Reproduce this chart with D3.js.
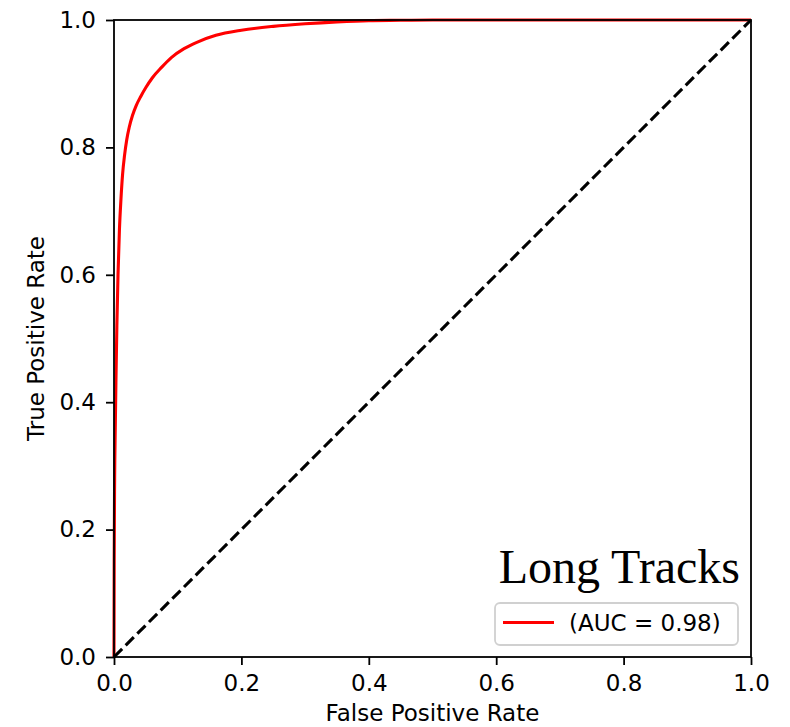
<!DOCTYPE html>
<html>
<head>
<meta charset="utf-8">
<script src="https://cdn.jsdelivr.net/npm/d3@7"></script>
<style>
  html, body { margin: 0; padding: 0; background: #fff; }
  svg { display: block; }
</style>
</head>
<body>
<svg id="chart" width="790" height="727"></svg>
<script>
// ROC curve data
const fpr = [0, 0.0003, 0.001, 0.002, 0.003, 0.0045, 0.0063, 0.0085, 0.011, 0.0135, 0.0165, 0.02, 0.024, 0.029, 0.035, 0.042, 0.05, 0.06, 0.075, 0.09, 0.11, 0.13, 0.16, 0.2, 0.25, 0.3, 0.35, 0.4, 0.45, 0.5, 0.6, 0.8, 1.0];
const tpr = [0, 0.15, 0.28, 0.36, 0.43, 0.52, 0.60, 0.67, 0.72, 0.758, 0.787, 0.812, 0.832, 0.85, 0.866, 0.88, 0.894, 0.909, 0.926, 0.941, 0.955, 0.965, 0.976, 0.984, 0.990, 0.994, 0.997, 0.999, 0.9995, 1, 1, 1, 1];
const chanceX = [0, 1];
const chanceY = [0, 1];
const xTicks = [0, 0.2, 0.4, 0.6, 0.8, 1.0];
const yTicks = [0, 0.2, 0.4, 0.6, 0.8, 1.0];
const xLabel = "False Positive Rate";
const yLabel = "True Positive Rate";
const titleText = "Long Tracks";
const legendLabel = "(AUC = 0.98)";

const svg = d3.select("#chart");
const L = 114, R = 751, T = 20, B = 657;
const FONT = "'DejaVu Sans', sans-serif";
const FS = 23;
const LW = 3.1;

const x = d3.scaleLinear().domain([0, 1]).range([L, R]);
const y = d3.scaleLinear().domain([0, 1]).range([B, T]);

const roc = fpr.map((f, i) => [f, tpr[i]]);
const line = d3.line().x(d => x(d[0])).y(d => y(d[1])).curve(d3.curveMonotoneX);

svg.append("path")
  .datum(roc)
  .attr("d", line)
  .attr("fill", "none")
  .attr("stroke", "#ff0000")
  .attr("stroke-width", LW)
  .attr("stroke-linejoin", "round");

svg.append("path")
  .datum(chanceX.map((v, i) => [v, chanceY[i]]))
  .attr("d", d3.line().x(d => x(d[0])).y(d => y(d[1])))
  .attr("fill", "none")
  .attr("stroke", "#000")
  .attr("stroke-width", LW)
  .attr("stroke-dasharray", "11.5,5");

// Title inside plot
svg.append("text")
  .attr("x", 740)
  .attr("y", 583)
  .attr("text-anchor", "end")
  .attr("font-family", "'Liberation Serif', 'Times New Roman', serif")
  .attr("font-size", 48)
  .attr("fill", "#000")
  .text(titleText);

// Legend
const lg = svg.append("g");
lg.append("rect")
  .attr("x", 495).attr("y", 603)
  .attr("width", 243).attr("height", 42)
  .attr("rx", 5).attr("ry", 5)
  .attr("fill", "#fff").attr("fill-opacity", 0.8)
  .attr("stroke", "#d0d0d0").attr("stroke-width", 1.8);
lg.append("line")
  .attr("x1", 503).attr("x2", 554)
  .attr("y1", 622.5).attr("y2", 622.5)
  .attr("stroke", "#ff0000").attr("stroke-width", LW);
lg.append("text")
  .attr("x", 569).attr("y", 630.5)
  .attr("font-family", FONT).attr("font-size", FS)
  .attr("fill", "#000")
  .text(legendLabel);

// Axes
const xAxis = d3.axisBottom(x).tickValues(xTicks).tickFormat(d3.format(".1f")).tickSize(8).tickPadding(10).tickSizeOuter(0);
const yAxis = d3.axisLeft(y).tickValues(yTicks).tickFormat(d3.format(".1f")).tickSize(8).tickPadding(10).tickSizeOuter(0);

const gx = svg.append("g").attr("transform", `translate(0,${B})`).call(xAxis);
const gy = svg.append("g").attr("transform", `translate(${L},0)`).call(yAxis);
[gx, gy].forEach(g => {
  g.select(".domain").remove();
  g.selectAll(".tick line").attr("stroke", "#000").attr("stroke-width", 1.8);
  g.selectAll(".tick text").attr("font-family", FONT).attr("font-size", FS).attr("fill", "#000");
});

// Frame (spines)
svg.append("rect")
  .attr("x", L).attr("y", T)
  .attr("width", R - L).attr("height", B - T)
  .attr("fill", "none")
  .attr("stroke", "#000")
  .attr("stroke-width", 1.8);

// Axis labels
svg.append("text")
  .attr("x", (L + R) / 2).attr("y", 721)
  .attr("text-anchor", "middle")
  .attr("font-family", FONT).attr("font-size", FS)
  .attr("fill", "#000")
  .text(xLabel);

svg.append("text")
  .attr("transform", `translate(44,${(T + B) / 2}) rotate(-90)`)
  .attr("text-anchor", "middle")
  .attr("font-family", FONT).attr("font-size", FS)
  .attr("fill", "#000")
  .text(yLabel);
</script>
</body>
</html>
